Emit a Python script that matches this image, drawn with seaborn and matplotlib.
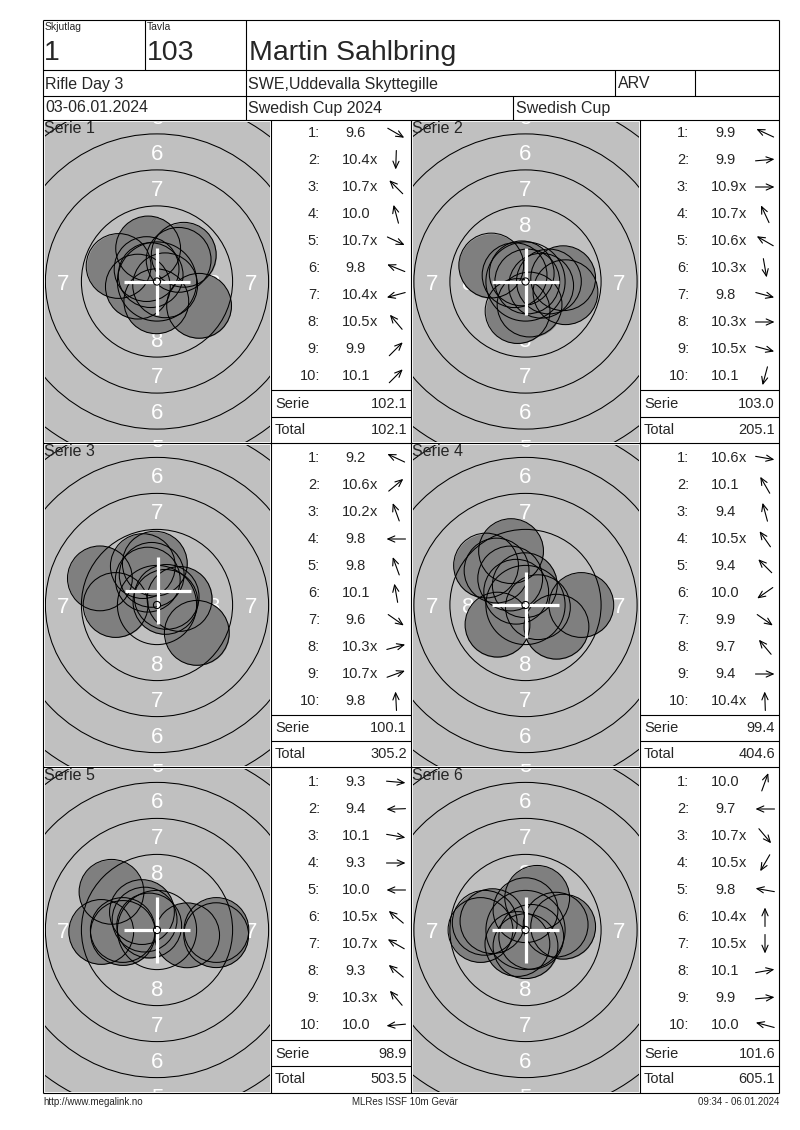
import numpy as np
import pandas as pd
import matplotlib
matplotlib.use("Agg")
import matplotlib.pyplot as plt
import seaborn as sns
from matplotlib.patches import Circle

sns.set_theme(style="white")
plt.rcParams['font.family'] = ['Liberation Sans', 'DejaVu Sans']

# ---------------- data ----------------
squad_label, squad = "Skjutlag", "1"
lane_label, lane = "Tavla", "103"
shooter = "Martin Sahlbring"
event = "Rifle Day 3"
club = "SWE,Uddevalla Skyttegille"
klass = "ARV"
dates = "03-06.01.2024"
competition = "Swedish Cup 2024"
cup = "Swedish Cup"
footer_left = "http://www.megalink.no"
footer_mid = "MLRes ISSF 10m Gevär"
footer_right = "09:34 - 06.01.2024"

series_names = ["Serie 1", "Serie 2", "Serie 3", "Serie 4", "Serie 5", "Serie 6"]

shots_1 = ["9.6", "10.4x", "10.7x", "10.0", "10.7x", "9.8", "10.4x", "10.5x", "9.9", "10.1"]
dir_1 = [-30, -92, 135, 105, -25, 158, 195, 130, 45, 45]
shots_2 = ["9.9", "9.9", "10.9x", "10.7x", "10.6x", "10.3x", "9.8", "10.3x", "10.5x", "10.1"]
dir_2 = [155, 5, 0, 115, 150, -80, -15, 0, -15, -105]
shots_3 = ["9.2", "10.6x", "10.2x", "9.8", "9.8", "10.1", "9.6", "10.3x", "10.7x", "9.8"]
dir_3 = [155, 40, 110, 180, 110, 100, -35, 15, 20, 93]
shots_4 = ["10.6x", "10.1", "9.4", "10.5x", "9.4", "10.0", "9.9", "9.7", "9.4", "10.4x"]
dir_4 = [-10, 120, 105, 125, 135, 215, -35, 130, 0, 92]
shots_5 = ["9.3", "9.4", "10.1", "9.3", "10.0", "10.5x", "10.7x", "9.3", "10.3x", "10.0"]
dir_5 = [-5, 182, -10, 0, 180, 140, 150, 140, 130, 185]
shots_6 = ["10.0", "9.7", "10.7x", "10.5x", "9.8", "10.4x", "10.5x", "10.1", "9.9", "10.0"]
dir_6 = [70, 180, -50, 240, 170, 90, -90, 10, 5, 165]

serie_sums = ["102.1", "103.0", "100.1", "99.4", "98.9", "101.6"]
running_totals = ["102.1", "205.1", "305.2", "404.6", "503.5", "605.1"]

# white cross marker per series (mm from target centre)
marker_x = [0.0, 0.0, 0.05, 0.0, 0.0, 0.0]
marker_y = [0.0, 0.0, 1.0, 0.0, 0.0, 0.0]

ring_numbers = [9, 8, 7, 6, 5, 4]
zone_labels = [8, 7, 6, 5]

all_shots = [shots_1, shots_2, shots_3, shots_4, shots_5, shots_6]
all_dirs = [dir_1, dir_2, dir_3, dir_4, dir_5, dir_6]

# ---------------- geometry ----------------
W, H = 800, 1130
PX_MM = 14.4                 # pixels per millimetre on the target
SHOT_R = 2.25                # pellet radius (mm)
RING_STEP = 2.5              # mm per ring
TEN_R = 0.25                 # 10-ring radius (mm)

def ring_radius(n):
    return TEN_R + (10 - n) * RING_STEP

fig = plt.figure(figsize=(W / 100, H / 100), dpi=100)
fig.patch.set_facecolor("white")

def px_axes(x0, y0, x1, y1, **kw):
    return fig.add_axes([x0 / W, 1 - y1 / H, (x1 - x0) / W, (y1 - y0) / H], **kw)

cols = [(43, 271, 411), (411, 640, 779)]
row_tops = [120, 443, 767]
row_bottom = 1093
row_first = [13, 15, 15]
serie_line = [390, 715, 1040]
total_line = [417, 741, 1066]

marker_diam_pt = 2 * SHOT_R * PX_MM * 72 / 100
S = marker_diam_pt ** 2

ov = fig.add_axes([0, 0, 1, 1], zorder=10)
ov.set_xlim(0, W)
ov.set_ylim(H, 0)
ov.axis("off")
ov.patch.set_alpha(0)

LW = 0.8
def hline(y, x0, x1):
    ov.plot([x0, x1], [y, y], color="black", lw=LW, solid_capstyle="butt")
def vline(x, y0, y1):
    ov.plot([x, x], [y0, y1], color="black", lw=LW, solid_capstyle="butt")

TXT = 10.5

for i in range(6):
    r, c = divmod(i, 2)
    top = row_tops[r]
    bot = row_tops[r + 1] if r < 2 else row_bottom
    tx0, tx1, tbl1 = cols[c]

    # ---- target ----
    ax = px_axes(tx0 + 1.5, top + 1.5, tx1 - 1.5, bot - 1.5)
    wpx = tx1 - tx0 - 3
    hpx = bot - top - 3
    xmax = wpx / 2 / PX_MM
    ymax = hpx / 2 / PX_MM
    ax.set_facecolor("#c0c0c0")

    vals = np.array([float(s.rstrip("x")) for s in all_shots[i]])
    ang = np.deg2rad(np.array(all_dirs[i], dtype=float))
    dist = (10.95 - vals) * RING_STEP
    df = pd.DataFrame({"x": dist * np.cos(ang), "y": dist * np.sin(ang)})

    for n in zone_labels:
        rm = (ring_radius(n + 1) + ring_radius(n)) / 2
        for (lx, ly) in [(0, rm), (0, -rm), (-rm, 0), (rm, 0)]:
            if abs(lx) > xmax - 0.3:
                continue
            ax.text(lx, ly, str(n), color="white", fontsize=16, ha="center",
                    va="center_baseline", clip_on=True, zorder=1)

    sns.scatterplot(data=df, x="x", y="y", s=S, color="#7f7f7f", linewidth=0,
                    ax=ax, zorder=3, legend=False)
    sns.scatterplot(data=df, x="x", y="y", s=S, facecolor="none", edgecolor="black",
                    linewidth=0.75, ax=ax, zorder=4, legend=False)

    for n in ring_numbers:
        ax.add_patch(Circle((0, 0), ring_radius(n), fill=False, ec="black", lw=0.75, zorder=5))

    mx, my = marker_x[i], marker_y[i]
    arm = 2.3
    ax.plot([mx - arm, mx + arm], [my, my], color="white", lw=2.3, zorder=6, solid_capstyle="butt")
    ax.plot([mx, mx], [my - arm, my + arm], color="white", lw=2.3, zorder=6, solid_capstyle="butt")
    ax.add_patch(Circle((0, 0), TEN_R, fill=False, ec="black", lw=0.75, zorder=7))

    ax.set_xlim(-xmax, xmax)
    ax.set_ylim(-ymax, ymax)
    ax.set_xticks([]); ax.set_yticks([])
    ax.set_xlabel(""); ax.set_ylabel("")
    for sp in ax.spines.values():
        sp.set_visible(False)

    ov.text(tx0 + 1, top + 8.5, series_names[i], fontsize=11.5, ha="left", va="center")

    # ---- table ----
    tl = tx1
    for k, s in enumerate(all_shots[i]):
        y = top + row_first[r] + k * 27
        ov.text(tl + 49, y, f"{k + 1}:", fontsize=TXT, ha="right", va="center")
        num = s.rstrip("x")
        ov.text(tl + 85, y, num, fontsize=TXT, ha="center", va="center")
        if s.endswith("x"):
            ov.text(tl + 99, y, "x", fontsize=TXT, ha="left", va="center")
        a = np.deg2rad(all_dirs[i][k])
        L = 19
        dx, dy = np.cos(a) * L, -np.sin(a) * L
        cx = tl + 125
        ov.annotate("", xy=(cx + dx / 2, y + dy / 2), xytext=(cx - dx / 2, y - dy / 2),
                    arrowprops=dict(arrowstyle="->,head_length=0.5,head_width=0.22",
                                    color="black", lw=0.8, shrinkA=0, shrinkB=0,
                                    mutation_scale=10))
    hline(serie_line[r], tl, tbl1)
    hline(total_line[r], tl, tbl1)
    ov.text(tl + 4, serie_line[r] + 13.5, "Serie", fontsize=TXT, ha="left", va="center")
    ov.text(tbl1 - 4, serie_line[r] + 13.5, serie_sums[i], fontsize=TXT, ha="right", va="center")
    ov.text(tl + 4, total_line[r] + 13, "Total", fontsize=TXT, ha="left", va="center")
    ov.text(tbl1 - 4, total_line[r] + 13, running_totals[i], fontsize=TXT, ha="right", va="center")

# ---------------- frame & header ----------------
hline(20, 43, 779); hline(1093, 43, 779)
vline(43, 20, 1093); vline(779, 20, 1093)
for y in (70, 96, 120, 443, 767):
    hline(y, 43, 779)
vline(145, 20, 70); vline(246, 20, 120)
vline(615, 70, 96); vline(695, 70, 96)
vline(513, 96, 120)
for x in (271, 411, 640):
    vline(x, 120, 1093)

ov.text(45, 27, squad_label, fontsize=7.5, ha="left", va="center")
ov.text(147, 27, lane_label, fontsize=7.5, ha="left", va="center")
ov.text(44, 53, squad, fontsize=20.5, ha="left", va="center")
ov.text(147, 53, lane, fontsize=20.5, ha="left", va="center")
ov.text(249, 53, shooter, fontsize=20.5, ha="left", va="center")
ov.text(45, 84, event, fontsize=11.5, ha="left", va="center")
ov.text(248, 84, club, fontsize=11.5, ha="left", va="center")
ov.text(618, 84, klass, fontsize=11.5, ha="left", va="center")
ov.text(45, 108, dates, fontsize=11.5, ha="left", va="center")
ov.text(248, 108, competition, fontsize=11.5, ha="left", va="center")
ov.text(516, 108, cup, fontsize=11.5, ha="left", va="center")

ov.text(43, 1102, footer_left, fontsize=7, ha="left", va="center")
ov.text(405, 1102, footer_mid, fontsize=7, ha="center", va="center")
ov.text(779, 1102, footer_right, fontsize=7, ha="right", va="center")

fig.savefig("out.png", dpi=100, facecolor="white")
